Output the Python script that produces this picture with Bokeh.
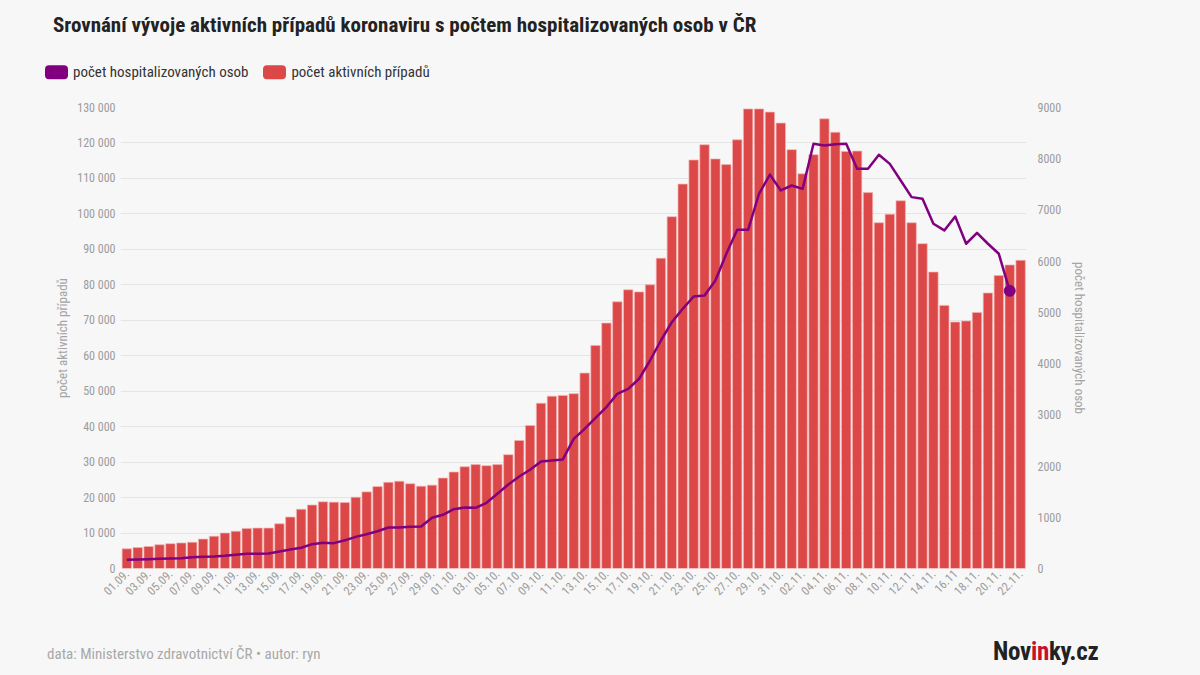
from bokeh.plotting import figure
from bokeh.models import Range1d, LinearAxis, FixedTicker, Div
from bokeh.layouts import column
from bokeh.embed import file_html
from bokeh.resources import INLINE

FONT = "Roboto Condensed, Roboto"
CSS_FONT = "'Roboto Condensed', Roboto, sans-serif"
BG = "#f7f7f7"
RED = "#dc4747"
PURPLE = "#800080"
GREY = "#9c9c9c"

# active cases, 01.09. - 22.11.
active = [
    5550, 5900, 6200, 6700, 7000, 7200, 7400, 8300, 9100, 10000,
    10500, 11300, 11400, 11400, 12600, 14500, 16700, 17900, 18800, 18700,
    18600, 20100, 21600, 23100, 24300, 24600, 23900, 23200, 23500, 25500,
    27200, 28700, 29300, 29000, 29300, 32100, 36100, 40300, 46600, 48600,
    48800, 49300, 55100, 62900, 69200, 75200, 78600, 78000, 80000, 87500,
    99200, 108400, 115200, 119500, 115500, 113900, 120900, 129600, 129600, 128700,
    125600, 118100, 111300, 116700, 126800, 123000, 117600, 117700, 106000, 97500,
    99900, 103700, 97500, 91600, 83600, 74200, 69500, 69800, 72200, 77700,
    82600, 85600, 86900,
]

# hospitalised, 01.09. - 21.11.
hosp = [
    170, 175, 182, 189, 195, 201, 221, 228, 234, 247,
    267, 286, 286, 293, 332, 371, 404, 475, 501, 495,
    550, 618, 670, 728, 800, 800, 813, 820, 990, 1048,
    1158, 1191, 1185, 1283, 1458, 1640, 1796, 1927, 2089, 2108,
    2130, 2532, 2727, 2942, 3150, 3410, 3508, 3704, 4061, 4451,
    4809, 5070, 5310, 5330, 5623, 6144, 6613, 6613, 7316, 7690,
    7380, 7477, 7412, 8291, 8258, 8284, 8291, 7803, 7803, 8077,
    7900, 7575, 7250, 7217, 6730, 6600, 6872, 6340, 6554, 6340,
    6144, 5422,
]

x_tick_labels = [
    "01.09.", "03.09.", "05.09.", "07.09.", "09.09.", "11.09.", "13.09.", "15.09.",
    "17.09.", "19.09.", "21.09.", "23.09.", "25.09.", "27.09.", "29.09.",
    "01.10.", "03.10.", "05.10.", "07.10.", "09.10.", "11.10.", "13.10.", "15.10.",
    "17.10.", "19.10.", "21.10.", "23.10.", "25.10.", "27.10.", "29.10.", "31.10.",
    "02.11.", "04.11.", "06.11.", "08.11.", "10.11.", "12.11.", "14.11.", "16.11",
    "18.11.", "20.11.", "22.11.",
]

left_ticks = [0, 10000, 20000, 30000, 40000, 50000, 60000, 70000, 80000, 90000,
              100000, 110000, 120000, 130000]
left_tick_labels = ["0", "10 000", "20 000", "30 000", "40 000", "50 000", "60 000",
                    "70 000", "80 000", "90 000", "100 000", "110 000", "120 000", "130 000"]
right_ticks = [0, 1000, 2000, 3000, 4000, 5000, 6000, 7000, 8000, 9000]
right_tick_labels = ["0", "1000", "2000", "3000", "4000", "5000", "6000", "7000", "8000", "9000"]

title_text = "Srovnání vývoje aktivních případů koronaviru s počtem hospitalizovaných osob v ČR"
legend_names = ["počet hospitalizovaných osob", "počet aktivních případů"]
source_text = "data: Ministerstvo zdravotnictví ČR • autor: ryn"

days = list(range(len(active)))
hosp_days = days[:len(hosp)]
x_ticks = days[::2]

FIG_H = 546
p = figure(width=1200, height=FIG_H, output_backend="svg", toolbar_location=None,
           x_range=Range1d(-0.58, 82.54), y_range=Range1d(0, 130000),
           min_border_left=120, min_border_right=174, min_border_top=13, min_border_bottom=72,
           background_fill_color=BG, border_fill_color=BG, outline_line_color=None)
p.extra_y_ranges = {"hosp": Range1d(0, 9000)}

p.xgrid.visible = False
p.ygrid.grid_line_color = "#e4e4e4"
p.ygrid.grid_line_width = 1

p.vbar(x=days, top=active, width=0.86, fill_color=RED, line_color="#f2b3b3", line_width=0.7)
p.line(x=hosp_days, y=hosp, y_range_name="hosp", line_color=PURPLE, line_width=2.5,
       line_join="round")
p.scatter(x=[hosp_days[-1]], y=[hosp[-1]], y_range_name="hosp", size=11,
          fill_color=PURPLE, line_color=PURPLE)


def style_axis(ax):
    ax.axis_line_color = None
    ax.major_tick_line_color = None
    ax.minor_tick_line_color = None
    ax.major_tick_out = 0
    ax.major_tick_in = 0
    ax.major_label_text_font = FONT
    ax.major_label_text_font_size = "12px"
    ax.major_label_text_color = GREY
    ax.axis_label_text_font = FONT
    ax.axis_label_text_font_size = "13px"
    ax.axis_label_text_font_style = "normal"
    ax.axis_label_text_color = "#a4a4a4"


xa = p.xaxis[0]
style_axis(xa)
xa.ticker = FixedTicker(ticks=x_ticks)
xa.major_label_overrides = dict(zip(x_ticks, x_tick_labels))
xa.major_label_orientation = 0.785398
xa.major_label_standoff = 3

ya = p.yaxis[0]
style_axis(ya)
ya.ticker = FixedTicker(ticks=left_ticks)
ya.major_label_overrides = dict(zip(left_ticks, left_tick_labels))
ya.major_label_standoff = 5
ya.axis_label = "počet aktivních případů"
ya.axis_label_standoff = 4

ra = LinearAxis(y_range_name="hosp")
style_axis(ra)
ra.ticker = FixedTicker(ticks=right_ticks)
ra.major_label_overrides = dict(zip(right_ticks, right_tick_labels))
ra.major_label_standoff = 11
ra.axis_label = "počet hospitalizovaných osob"
ra.axis_label_standoff = 8
p.add_layout(ra, "right")

title_div = Div(
    text=f'<div style="position:relative;width:1200px;height:50px;font-family:{CSS_FONT};">'
         f'<div style="position:absolute;left:53px;top:0;line-height:50px;font-size:21px;'
         f'font-weight:700;color:#222;white-space:nowrap;">{title_text}</div></div>',
    width=1200, height=50, margin=0, styles={"background-color": BG})

sw = ('display:inline-block;width:23px;height:14px;border-radius:4px;'
      'vertical-align:middle;margin-right:5px;background:{}')
legend_div = Div(
    text=f'<div style="position:relative;width:1200px;height:44px;font-family:{CSS_FONT};'
         f'font-size:15px;color:#333;">'
         f'<div style="position:absolute;left:45px;top:22px;transform:translateY(-50%);'
         f'white-space:nowrap;line-height:17px;">'
         f'<span style="{sw.format(PURPLE)}"></span><span style="vertical-align:middle">{legend_names[0]}</span>'
         f'<span style="{sw.format(RED)};margin-left:15px"></span><span style="vertical-align:middle">{legend_names[1]}</span>'
         f'</div></div>',
    width=1200, height=44, margin=0, styles={"background-color": BG})

footer_div = Div(
    text=f'<div style="position:relative;width:1200px;height:35px;font-family:{CSS_FONT};">'
         f'<div style="position:absolute;left:47px;top:15px;transform:translateY(-50%);'
         f'font-size:15px;color:#a8a8a8;white-space:nowrap;">{source_text}</div>'
         f'<div style="position:absolute;left:993px;top:12px;transform:translateY(-50%);'
         f'font-size:25px;font-weight:700;color:#222;white-space:nowrap;letter-spacing:-0.3px;">'
         f'Nov<span style="color:#c8102e">in</span>ky.cz</div></div>',
    width=1200, height=35, margin=0, styles={"background-color": BG})

layout = column(title_div, legend_div, p, footer_div, spacing=0,
                styles={"background-color": BG})

open("out.html", "w").write(file_html(layout, INLINE))
